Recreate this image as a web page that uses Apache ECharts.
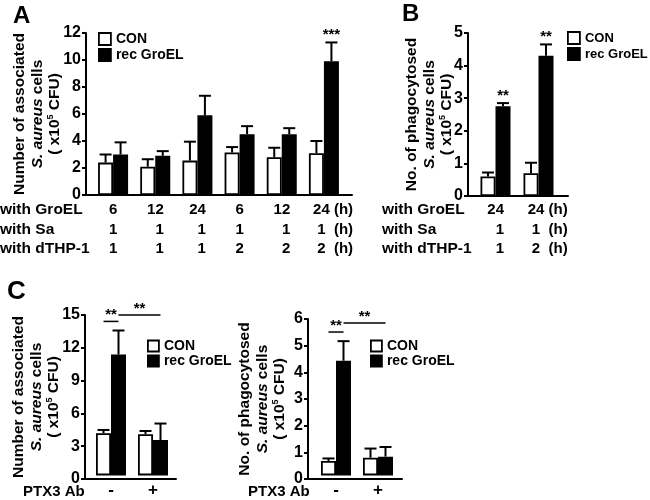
<!DOCTYPE html>
<html><head><meta charset="utf-8">
<script src="https://cdn.jsdelivr.net/npm/echarts@6/dist/echarts.min.js"></script>
<style>html,body{margin:0;padding:0;background:#fff}#c{width:650px;height:500px}</style>
</head><body><div id="c"></div>
<script>
// ---------- DATA ----------
// Panel A
const rowsA_GroEL = ['6', '12', '24', '6', '12', '24'];
const rowsA_Sa = ['1', '1', '1', '1', '1', '1'];
const rowsA_THP = ['1', '1', '1', '2', '2', '2'];
const conA = [2.4, 2.1, 2.55, 3.15, 2.8, 3.1];
const conA_err = [0.6, 0.55, 1.4, 0.4, 0.7, 0.9];
const groA = [3.0, 2.9, 5.9, 4.5, 4.5, 9.9];
const groA_err = [0.9, 0.35, 1.45, 0.6, 0.45, 1.4];
const sigA = ['', '', '', '', '', '***'];
// Panel B
const rowsB_GroEL = ['24', '24'];
const rowsB_Sa = ['1', '1'];
const rowsB_THP = ['1', '2'];
const conB = [0.6, 0.7];
const conB_err = [0.12, 0.32];
const groB = [2.75, 4.3];
const groB_err = [0.1, 0.35];
const sigB = ['**', '**'];
// Panel C
const catsC = ['-', '+'];
const conC1 = [3.95, 3.85];
const conC1_err = [0.3, 0.3];
const groC1 = [11.3, 3.3];
const groC1_err = [2.25, 1.55];
const conC2 = [0.55, 0.68];
const conC2_err = [0.1, 0.35];
const groC2 = [4.4, 0.72];
const groC2_err = [0.75, 0.37];
// brackets: [fromCat, fromSide(-1 CON / 1 GroEL), toCat, toSide, level, text]
const bracketsC1 = [[0, -1, 0, 1, 14.4, '**'], [0, 1, 1, 1, 15.0, '**']];
const bracketsC2 = [[0, -1, 0, 1, 5.5, '**'], [0, 1, 1, 1, 5.85, '**']];
const rowLabels = ['with GroEL', 'with Sa', 'with dTHP-1'];
const xLabelC = 'PTX3 Ab';
const unitSuffix = ' (h)';
const seriesNames = ['CON', 'rec GroEL'];
const yNameA = 'Number of associated\n{i|S. aureus}{n| cells}\n{n|( x10}{s|5}{n| CFU)}';
const yNameB = 'No. of phagocytosed\n{i|S. aureus}{n| cells}\n{n|( x10}{s|5}{n| CFU)}';

// ---------- STYLE ----------
const FONT = '"Liberation Sans", Arial, Helvetica, sans-serif';
const BAR_W = 15;
const LH = 19.6;
const grids = [], xAxes = [], yAxes = [], series = [], legends = [];

function txt(size, extra) {
  return Object.assign({ fontFamily: FONT, fontSize: size, fontWeight: 'bold', color: '#000' }, extra || {});
}

function panel(p) {
  const g = grids.length;
  grids.push({ left: p.left, top: p.top, width: p.width, height: p.height });
  grids.push({ left: p.barLeft, top: p.top, width: p.barWidth, height: p.height });
  const xi = xAxes.length, yi = yAxes.length;
  xAxes.push({ gridIndex: g, type: 'value', min: 0, max: 1,
    axisLine: { show: true, onZero: false, lineStyle: { color: '#000', width: 2 } },
    axisTick: { show: false }, axisLabel: { show: false }, splitLine: { show: false } });
  const n = p.con.length;
  const fs = p.labelSize || 15;
  const richLine = { lineHeight: LH, fontFamily: FONT, fontSize: fs, fontWeight: 'bold', color: '#000' };
  xAxes.push({ gridIndex: g + 1, type: 'category', data: p.con.map((_, i) => String(i)),
    axisLine: { show: false }, axisTick: { show: false },
    axisLabel: { interval: 0, margin: p.labelMargin, lineHeight: LH, ...txt(fs),
      formatter: (val) => {
        const i = Number(val);
        const lines = p.rows.map(r => r[i]);
        const ml = Math.max(...lines.map(s => s.length));
        const key = p.centerLabels ? 'c' : 'd' + ml;
        const last = p.suffix && i === n - 1;
        return lines.map(s => last ? `{p|}{${key}|${s}}{h|${p.suffix}}` : `{${key}|${s}}`).join('\n');
      },
      rich: {
        d1: { ...richLine, width: 8.5, align: 'right' },
        d2: { ...richLine, width: 17, align: 'right' },
        c: { ...richLine, align: 'center' },
        p: { ...richLine, width: 18 },
        h: { ...richLine, width: 23, align: 'left' }
      } } });
  const nameRich = {
    n: txt(15.5, { lineHeight: 17.7 }),
    i: txt(15.5, { fontStyle: 'italic', lineHeight: 17.7 }),
    s: txt(9, { lineHeight: 9, verticalAlign: 'top' })
  };
  yAxes.push({ gridIndex: g, type: 'value', min: p.yMin, max: p.yMax, interval: p.yInt,
    axisLine: { show: true, lineStyle: { color: '#000', width: 2 } },
    axisTick: { show: true, length: 4, lineStyle: { color: '#000', width: 2 } },
    axisLabel: { margin: 5, ...txt(16) },
    splitLine: { show: false },
    name: p.yName, nameLocation: 'middle', nameRotate: 90, nameGap: p.nameGap, nameMoveOverlap: false,
    nameTextStyle: txt(15.5, { lineHeight: 17.7, rich: nameRich }) });
  yAxes.push({ gridIndex: g + 1, type: 'value', min: p.yMin, max: p.yMax, show: false });
  const bx = xi + 1, by = yi + 1;
  series.push({ name: seriesNames[0], type: 'bar', xAxisIndex: bx, yAxisIndex: by, data: p.con,
    barWidth: BAR_W, barGap: '0%', itemStyle: { color: '#fff', borderColor: '#000', borderWidth: 1.8 }, silent: true });
  series.push({ name: seriesNames[1], type: 'bar', xAxisIndex: bx, yAxisIndex: by, data: p.gro,
    barWidth: BAR_W, barGap: '0%', itemStyle: { color: '#000', borderColor: '#000', borderWidth: 1.8 }, silent: true });
  [[p.con, p.conErr, -1, p.sigCon], [p.gro, p.groErr, 1, p.sigGro]].forEach(([vals, errs, side, sig]) => {
    series.push({ type: 'custom', xAxisIndex: bx, yAxisIndex: by, silent: true, z: 5,
      data: vals.map((v, i) => [i, v, v + errs[i]]), encode: { x: 0, y: [1, 2] },
      renderItem: (params, api) => {
        const i = api.value(0);
        const b = api.coord([i, api.value(1)]);
        const t = api.coord([i, api.value(2)]);
        const x = b[0] + side * BAR_W / 2;
        const ls = { stroke: '#000', lineWidth: 2 };
        const ch = [
          { type: 'line', shape: { x1: x, y1: b[1], x2: x, y2: t[1] }, style: ls },
          { type: 'line', shape: { x1: x - 6, y1: t[1], x2: x + 6, y2: t[1] }, style: ls }
        ];
        if (sig && sig[i]) ch.push({ type: 'text', style: { text: sig[i], x: x, y: t[1], align: 'center', verticalAlign: 'bottom', font: 'bold 15px ' + FONT, fill: '#000' } });
        return { type: 'group', children: ch };
      } });
  });
  if (p.brackets) {
    series.push({ type: 'custom', xAxisIndex: bx, yAxisIndex: by, silent: true, z: 5,
      data: p.brackets, encode: { x: 0, y: 4 },
      renderItem: (params, api) => {
        const d = p.brackets[params.dataIndex];
        const a = api.coord([d[0], d[4]]), c = api.coord([d[2], d[4]]);
        const x1 = a[0] + d[1] * BAR_W / 2, x2 = c[0] + d[3] * BAR_W / 2;
        return { type: 'group', children: [
          { type: 'line', shape: { x1: x1, y1: a[1], x2: x2, y2: a[1] }, style: { stroke: '#000', lineWidth: 1.5 } },
          { type: 'text', style: { text: d[5], x: (x1 + x2) / 2, y: a[1] + 1, align: 'center', verticalAlign: 'bottom', font: 'bold 15px ' + FONT, fill: '#000' } }
        ] };
      } });
  }
  const ls = p.legendSize || 12;
  legends.push({ left: p.legendLeft, top: p.legendTop, orient: 'vertical', icon: 'rect', padding: 0,
    itemWidth: ls, itemHeight: ls, itemGap: p.legendGap, selectedMode: false,
    textStyle: txt(p.legendFont || 14, { lineHeight: 14 }),
    data: [
      { name: seriesNames[0], itemStyle: { color: '#fff', borderColor: '#000', borderWidth: 1.8 } },
      { name: seriesNames[1], itemStyle: { color: '#000', borderColor: '#000', borderWidth: 1.8 } }
    ] });
}

panel({ left: 86, top: 33, width: 266, height: 162, barLeft: 92, barWidth: 253,
  yMin: 0, yMax: 12, yInt: 2, yName: yNameA, nameGap: 22, labelMargin: 5,
  rows: [rowsA_GroEL, rowsA_Sa, rowsA_THP], suffix: unitSuffix,
  con: conA, conErr: conA_err, gro: groA, groErr: groA_err, sigGro: sigA,
  legendLeft: 98, legendTop: 32, legendGap: 2 });
panel({ left: 468, top: 33, width: 100, height: 163, barLeft: 474, barWidth: 86,
  yMin: 0, yMax: 5, yInt: 1, yName: yNameB, nameGap: 12, labelMargin: 4,
  rows: [rowsB_GroEL, rowsB_Sa, rowsB_THP], suffix: unitSuffix,
  con: conB, conErr: conB_err, gro: groB, groErr: groB_err, sigGro: sigB,
  legendLeft: 567, legendTop: 31, legendGap: 2, legendFont: 13 });
panel({ left: 85, top: 315, width: 91, height: 164, barLeft: 90, barWidth: 84,
  yMin: 0, yMax: 15, yInt: 3, yName: yNameA, nameGap: 22, labelMargin: 5, labelSize: 17,
  rows: [catsC], centerLabels: true,
  con: conC1, conErr: conC1_err, gro: groC1, groErr: groC1_err, brackets: bracketsC1,
  legendLeft: 147, legendTop: 339, legendGap: 1, legendSize: 11 });
panel({ left: 308, top: 319, width: 94, height: 160, barLeft: 315, barWidth: 84,
  yMin: 0, yMax: 6, yInt: 1, yName: yNameB, nameGap: 19, labelMargin: 5, labelSize: 17,
  rows: [catsC], centerLabels: true,
  con: conC2, conErr: conC2_err, gro: groC2, groErr: groC2_err, brackets: bracketsC2,
  legendLeft: 370, legendTop: 339, legendGap: 1, legendSize: 11 });

function rowText(left, top) {
  return { type: 'text', left: left, top: top,
    style: { text: rowLabels.join('\n'), font: 'bold 15.5px ' + FONT, lineHeight: LH, fill: '#000' } };
}
const graphic = [
  { type: 'text', left: 13, top: 4, style: { text: 'A', font: 'bold 24px ' + FONT, fill: '#000' } },
  { type: 'text', left: 402, top: 2, style: { text: 'B', font: 'bold 24px ' + FONT, fill: '#000' } },
  { type: 'text', left: 7, top: 279, style: { text: 'C', font: 'bold 26px ' + FONT, fill: '#000' } },
  rowText(0, 200), rowText(382, 200),
  { type: 'text', left: 23, top: 484, style: { text: xLabelC, font: 'bold 15px ' + FONT, fill: '#000' } },
  { type: 'text', left: 248, top: 484, style: { text: xLabelC, font: 'bold 15px ' + FONT, fill: '#000' } }
];

const chart = echarts.init(document.getElementById('c'));
chart.setOption({ animation: false, backgroundColor: '#fff', grid: grids, xAxis: xAxes, yAxis: yAxes,
  legend: legends, series: series, graphic: graphic });
</script></body></html>
